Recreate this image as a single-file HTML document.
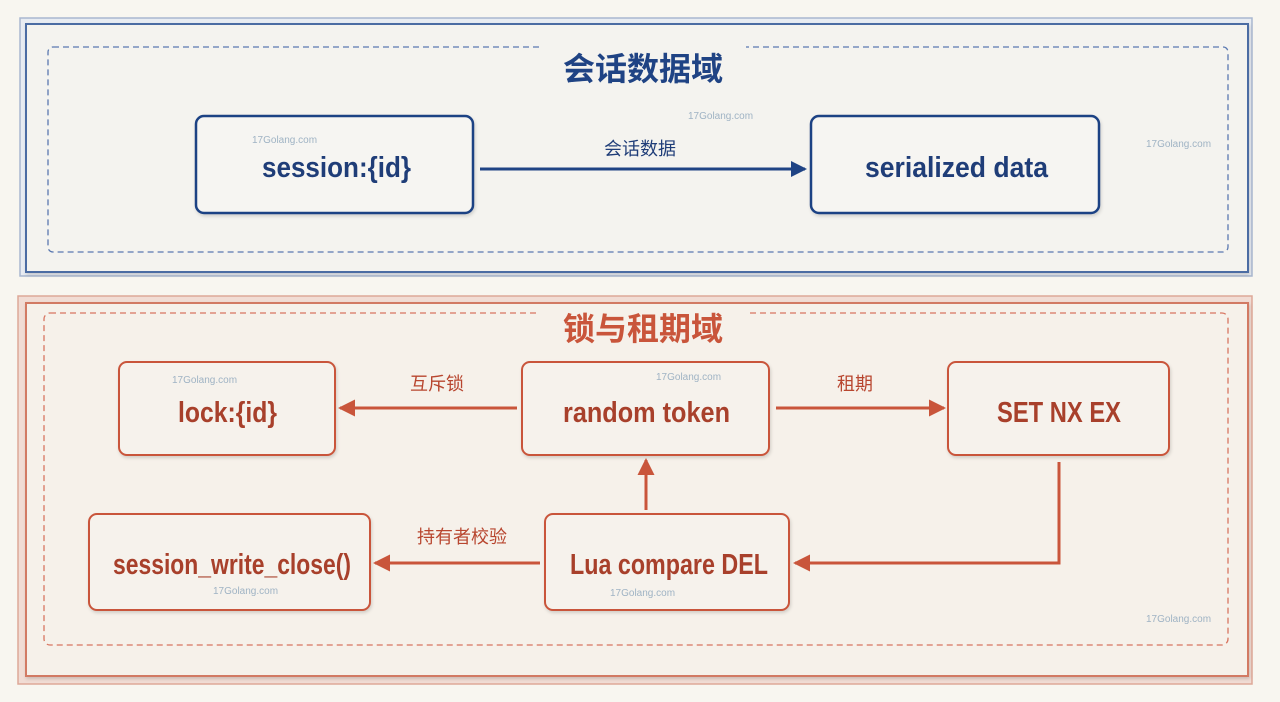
<!DOCTYPE html>
<html><head><meta charset="utf-8"><style>
html,body{margin:0;padding:0;background:#f8f6f0;}
svg{display:block}
text{font-family:"Liberation Sans","Noto Sans CJK SC",sans-serif;}
.cj{font-family:"Liberation Sans","Noto Sans CJK SC",sans-serif;}
.wm{font-family:"Liberation Sans",sans-serif;font-size:10px;fill:#9fb3c4;}
</style></head><body>
<svg width="1280" height="702" viewBox="0 0 1280 702" xmlns="http://www.w3.org/2000/svg">
<defs>
<filter id="sh" x="-5%" y="-5%" width="110%" height="120%"><feDropShadow dx="1" dy="2" stdDeviation="1.5" flood-color="#000" flood-opacity="0.15"/></filter>
<marker id="ab" markerWidth="16" markerHeight="16" refX="14" refY="8" orient="auto" markerUnits="userSpaceOnUse" viewBox="0 0 16 16"><path d="M0,0 L16,8 L0,16 z" fill="#1f4384"/></marker>
<marker id="ar" markerWidth="17" markerHeight="17" refX="15" refY="8.5" orient="auto" markerUnits="userSpaceOnUse" viewBox="0 0 17 17"><path d="M0,0 L17,8.5 L0,17 z" fill="#c9553b"/></marker>
</defs>
<!-- top panel -->
<rect x="20" y="18" width="1232" height="258" fill="#e8ecf2" stroke="#a9b7cf" stroke-width="1.5"/>
<rect x="26" y="24" width="1222" height="248" fill="#f4f3ef" stroke="#4c6ca3" stroke-width="2" filter="url(#sh)"/>
<rect x="48" y="47" width="1180" height="205" rx="5" fill="none" stroke="#5a78b0" stroke-width="1.3" stroke-dasharray="6,4"/>
<rect x="540" y="44" width="206" height="10" fill="#f4f3ef"/>
<text x="643" y="80" text-anchor="middle" class="cj" font-size="32" font-weight="bold" fill="#1f4384">会话数据域</text>
<rect x="196" y="116" width="277" height="97" rx="8" fill="#f6f5f2" stroke="#1f4384" stroke-width="2.5" filter="url(#sh)"/>
<text x="262" y="177" font-size="29" font-weight="bold" fill="#1f3d78" textLength="149" lengthAdjust="spacingAndGlyphs">session:{id}</text>
<rect x="811" y="116" width="288" height="97" rx="8" fill="#f6f5f2" stroke="#1f4384" stroke-width="2.5" filter="url(#sh)"/>
<text x="865" y="177" font-size="29" font-weight="bold" fill="#1f3d78" textLength="183" lengthAdjust="spacingAndGlyphs">serialized data</text>
<line x1="480" y1="169" x2="805" y2="169" stroke="#1f4384" stroke-width="3" marker-end="url(#ab)"/>
<text x="640" y="155" text-anchor="middle" class="cj" font-size="18" fill="#1f3d78">会话数据</text>
<text x="252" y="143" class="wm">17Golang.com</text>
<text x="688" y="119" class="wm">17Golang.com</text>
<text x="1146" y="147" class="wm">17Golang.com</text>
<!-- bottom panel -->
<rect x="18" y="296" width="1234" height="388" fill="#f1dcd4" stroke="#dea898" stroke-width="1.5"/>
<rect x="26" y="303" width="1222" height="373" fill="#f6f1ea" stroke="#d27a64" stroke-width="2" filter="url(#sh)"/>
<rect x="44" y="313" width="1184" height="332" rx="6" fill="none" stroke="#d87560" stroke-width="1.3" stroke-dasharray="6,4"/>
<rect x="540" y="308" width="206" height="10" fill="#f6f1ea"/>
<text x="643" y="340" text-anchor="middle" class="cj" font-size="32" font-weight="bold" fill="#c9553b">锁与租期域</text>
<g fill="#f6f2ec" stroke="#c9553b" stroke-width="2" filter="url(#sh)">
<rect x="119" y="362" width="216" height="93" rx="8"/>
<rect x="522" y="362" width="247" height="93" rx="8"/>
<rect x="948" y="362" width="221" height="93" rx="8"/>
<rect x="89" y="514" width="281" height="96" rx="8"/>
<rect x="545" y="514" width="244" height="96" rx="8"/>
</g>
<g font-size="29" font-weight="bold" fill="#a8402b">
<text x="178" y="422" textLength="99" lengthAdjust="spacingAndGlyphs">lock:{id}</text>
<text x="563" y="422" textLength="167" lengthAdjust="spacingAndGlyphs">random token</text>
<text x="997" y="422" textLength="124" lengthAdjust="spacingAndGlyphs">SET NX EX</text>
<text x="113" y="574" textLength="238" lengthAdjust="spacingAndGlyphs">session_write_close()</text>
<text x="570" y="574" textLength="198" lengthAdjust="spacingAndGlyphs">Lua compare DEL</text>
</g>
<g stroke="#c9553b" stroke-width="3" fill="none">
<line x1="517" y1="408" x2="340" y2="408" marker-end="url(#ar)"/>
<line x1="776" y1="408" x2="944" y2="408" marker-end="url(#ar)"/>
<polyline points="1059,462 1059,563 795,563" marker-end="url(#ar)"/>
<line x1="646" y1="510" x2="646" y2="460" marker-end="url(#ar)"/>
<line x1="540" y1="563" x2="375" y2="563" marker-end="url(#ar)"/>
</g>
<g class="cj" font-size="18" fill="#b8462f" text-anchor="middle">
<text x="437" y="390">互斥锁</text>
<text x="855" y="390">租期</text>
<text x="462" y="543">持有者校验</text>
</g>
<text x="172" y="383" class="wm">17Golang.com</text>
<text x="656" y="380" class="wm">17Golang.com</text>
<text x="213" y="594" class="wm">17Golang.com</text>
<text x="610" y="596" class="wm">17Golang.com</text>
<text x="1146" y="622" class="wm">17Golang.com</text>
</svg>
</body></html>
